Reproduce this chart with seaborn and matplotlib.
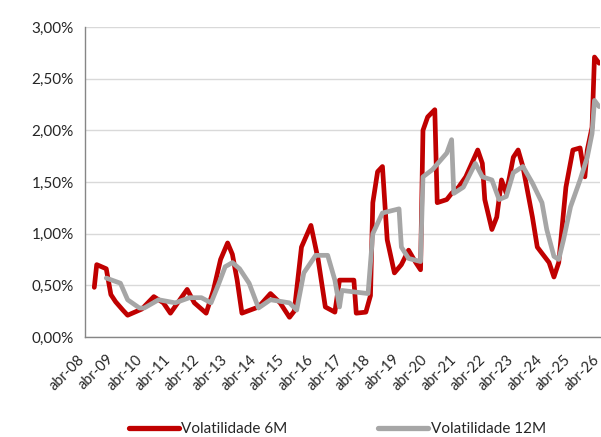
import pandas as pd
import numpy as np
import seaborn as sns
import matplotlib.pyplot as plt
import matplotlib.dates as mdates
from matplotlib.ticker import FuncFormatter
from matplotlib.transforms import ScaledTranslation

# Volatilidade 6M (em %)
datas_6m = ["2008-08", "2008-09", "2009-01", "2009-03", "2009-05", "2009-08", "2009-10",
            "2010-04", "2010-09", "2011-01", "2011-04", "2011-11", "2012-02", "2012-07",
            "2012-10", "2013-01", "2013-04", "2013-06", "2013-08", "2013-10", "2014-05",
            "2014-10", "2015-02", "2015-06", "2015-08", "2015-11", "2016-03", "2016-06",
            "2016-09", "2017-01", "2017-03", "2017-09", "2017-10", "2018-02", "2018-04",
            "2018-05", "2018-07", "2018-09", "2018-11", "2019-02", "2019-05", "2019-08",
            "2019-11", "2020-01", "2020-02", "2020-04", "2020-07", "2020-08", "2020-12",
            "2021-02", "2021-05", "2021-08", "2022-01", "2022-03", "2022-04", "2022-07",
            "2022-09", "2022-11", "2023-01", "2023-04", "2023-06", "2023-08", "2023-12",
            "2024-02", "2024-04", "2024-07", "2024-09", "2024-11", "2025-02", "2025-05",
            "2025-08", "2025-10", "2025-11", "2026-01", "2026-02", "2026-04"]
vol_6m = [0.48, 0.70, 0.66, 0.41, 0.34, 0.26, 0.21,
          0.27, 0.39, 0.33, 0.23, 0.46, 0.33, 0.23,
          0.45, 0.75, 0.91, 0.80, 0.55, 0.23, 0.29,
          0.42, 0.33, 0.19, 0.25, 0.87, 1.08, 0.75,
          0.29, 0.24, 0.55, 0.55, 0.23, 0.24, 0.40,
          1.30, 1.60, 1.65, 0.94, 0.62, 0.70, 0.84,
          0.72, 0.65, 2.00, 2.13, 2.20, 1.30, 1.33,
          1.39, 1.45, 1.55, 1.81, 1.68, 1.33, 1.04,
          1.16, 1.52, 1.39, 1.74, 1.81, 1.65, 1.16,
          0.87, 0.81, 0.72, 0.58, 0.72, 1.45, 1.81,
          1.83, 1.55, 1.81, 2.03, 2.71, 2.65]

# Volatilidade 12M (em %)
datas_12m = ["2009-01", "2009-07", "2009-10", "2010-03", "2010-05", "2010-11", "2011-06",
             "2011-12", "2012-05", "2012-09", "2012-12", "2013-03", "2013-06", "2013-09",
             "2014-01", "2014-05", "2014-10", "2015-06", "2015-09", "2015-12", "2016-05",
             "2016-10", "2017-01", "2017-03", "2017-04", "2018-03", "2018-05", "2018-09",
             "2019-04", "2019-05", "2019-08", "2020-01", "2020-02", "2020-06", "2020-12",
             "2021-02", "2021-03", "2021-07", "2021-12", "2022-03", "2022-07", "2022-10",
             "2023-01", "2023-04", "2023-08", "2023-12", "2024-04", "2024-06", "2024-09",
             "2024-11", "2025-01", "2025-04", "2025-08", "2025-11", "2026-01", "2026-02",
             "2026-04"]
vol_12m = [0.57, 0.52, 0.36, 0.28, 0.28, 0.36, 0.33,
           0.38, 0.38, 0.33, 0.50, 0.68, 0.72, 0.66,
           0.52, 0.28, 0.36, 0.33, 0.26, 0.62, 0.79,
           0.79, 0.55, 0.29, 0.45, 0.42, 1.00, 1.20,
           1.24, 0.87, 0.76, 0.73, 1.55, 1.62, 1.78,
           1.91, 1.39, 1.45, 1.68, 1.55, 1.52, 1.33,
           1.36, 1.59, 1.65, 1.49, 1.30, 1.04, 0.78,
           0.75, 0.94, 1.26, 1.52, 1.74, 1.97, 2.29,
           2.23]

serie_nomes = ["Volatilidade 6M", "Volatilidade 12M"]
cores = ["#C00000", "#A6A6A6"]

df = pd.concat([
    pd.DataFrame({"data": pd.to_datetime(datas_6m), "vol": np.array(vol_6m) / 100, "serie": serie_nomes[0]}),
    pd.DataFrame({"data": pd.to_datetime(datas_12m), "vol": np.array(vol_12m) / 100, "serie": serie_nomes[1]}),
])

sns.set_style("white")
plt.rcParams["font.family"] = ["Lato", "DejaVu Sans"]

fig = plt.figure(figsize=(6.01, 4.37), dpi=100)
ax = fig.add_axes([0.141, 0.229, 0.857, 0.709])

sns.lineplot(data=df, x="data", y="vol", hue="serie", palette=dict(zip(serie_nomes, cores)),
             linewidth=3.4, ax=ax, legend=False, estimator=None,
             solid_joinstyle="round", solid_capstyle="round")

ax.set_ylim(0, 0.03)
ax.set_yticks(np.arange(0, 0.0301, 0.005))
ax.yaxis.set_major_formatter(FuncFormatter(lambda v, p: f"{v*100:.2f}%".replace(".", ",")))
ax.set_xlim(pd.Timestamp("2008-04-01"), pd.Timestamp("2026-04-10"))
anos = pd.date_range("2008-04-01", "2026-04-01", freq="12MS")
ax.set_xticks(anos)
ax.xaxis.set_major_formatter(FuncFormatter(lambda v, p: "abr-" + mdates.num2date(v).strftime("%y")))

ax.grid(axis="y", color="#D9D9D9", linewidth=1)
ax.set_axisbelow(True)
for s in ["top", "right"]:
    ax.spines[s].set_visible(False)
for s in ["left", "bottom"]:
    ax.spines[s].set_color("#868686")
    ax.spines[s].set_linewidth(1)
ax.tick_params(axis="y", length=4, color="#868686", labelsize=11, pad=4)
ax.tick_params(axis="x", length=0, labelsize=10.5, pad=11)
ax.set_xlabel("")
ax.set_ylabel("")

# rótulos inclinados, deslocados um pouco para a esquerda
desloc = ScaledTranslation(-5 / 72, 0, fig.dpi_scale_trans)
for lbl in ax.get_xticklabels():
    lbl.set_rotation(45)
    lbl.set_ha("right")
    lbl.set_va("top")
    lbl.set_rotation_mode("anchor")
    lbl.set_transform(lbl.get_transform() + desloc)

handles = [plt.Line2D([], [], color=c, linewidth=3.8, solid_capstyle="round") for c in cores]
fig.legend(handles, serie_nomes, loc="center", bbox_to_anchor=(0.561, 0.018), ncol=2,
           frameon=False, fontsize=11, handlelength=3.3, handletextpad=0.15, columnspacing=5.9,
           borderpad=0)

fig.savefig("out.png", dpi=100)
